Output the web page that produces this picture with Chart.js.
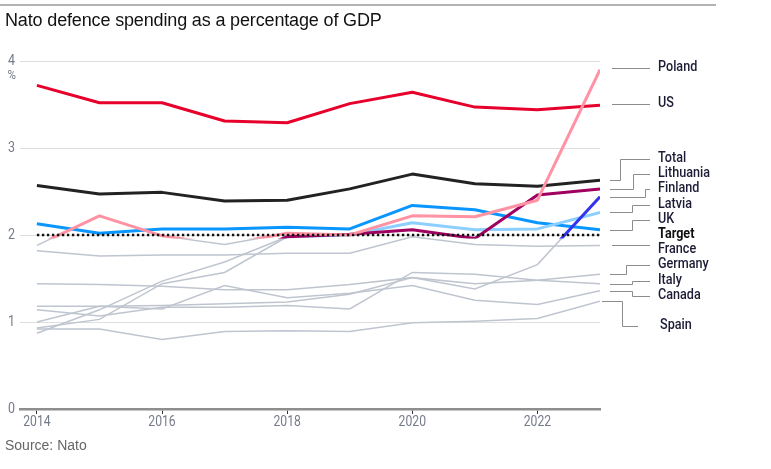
<!DOCTYPE html>
<html>
<head>
<meta charset="utf-8">
<script src="https://cdn.jsdelivr.net/npm/chart.js@4.4.1/dist/chart.umd.min.js"></script>
<style>
  html, body { margin: 0; padding: 0; background: #fff; }
  #wrap { position: relative; width: 771px; height: 469px; overflow: hidden; }
  #rule { position: absolute; left: 0; top: 4px; width: 716px; height: 0; border-top: 2px solid #b3b3b3; }
  #title { position: absolute; left: 5px; top: 10px; font-family: 'Liberation Sans', Arial, sans-serif; font-size: 18px; color: #121212; white-space: nowrap; letter-spacing: -0.15px; }
  #source { position: absolute; left: 5px; top: 437px; font-family: 'Liberation Sans', Arial, sans-serif; font-size: 14px; color: #666; }
  canvas { position: absolute; left: 0; top: 0; }
</style>
</head>
<body>
<div id="wrap">
  <canvas id="c" width="771" height="469"></canvas>
  <div id="rule"></div>
  <div id="title">Nato defence spending as a percentage of GDP</div>
  <div id="source">Source: Nato</div>
</div>
<script>
// ---------- data ----------
const years = [2014, 2015, 2016, 2017, 2018, 2019, 2020, 2021, 2022, 2023];
const xTickYears = [2014, 2016, 2018, 2020, 2022];
const yTickValues = [0, 1, 2, 3, 4];
const targetValue = 2;

const poland    = [1.88, 2.22, 1.99, 1.89, 2.02, 2.00, 2.22, 2.21, 2.40, 3.90];
const us        = [3.72, 3.52, 3.52, 3.31, 3.29, 3.51, 3.64, 3.47, 3.44, 3.49];
const total     = [2.57, 2.47, 2.49, 2.39, 2.40, 2.53, 2.70, 2.59, 2.56, 2.63];
const lithuania = [0.87, 1.14, 1.47, 1.69, 1.98, 2.01, 2.06, 1.96, 2.46, 2.53];
const finland   = [1.44, 1.43, 1.41, 1.37, 1.37, 1.43, 1.51, 1.38, 1.66, 2.44];
const latvia    = [0.93, 1.03, 1.44, 1.57, 1.98, 2.00, 2.14, 2.06, 2.07, 2.26];
const uk        = [2.13, 2.02, 2.07, 2.07, 2.09, 2.07, 2.34, 2.29, 2.14, 2.06];
const france    = [1.82, 1.76, 1.77, 1.77, 1.79, 1.79, 1.98, 1.89, 1.87, 1.88];
const germany   = [1.18, 1.18, 1.19, 1.21, 1.23, 1.32, 1.51, 1.44, 1.48, 1.55];
const italy     = [1.14, 1.07, 1.17, 1.17, 1.19, 1.15, 1.57, 1.55, 1.48, 1.44];
const canada    = [1.00, 1.18, 1.15, 1.42, 1.28, 1.33, 1.42, 1.25, 1.20, 1.36];
const spain     = [0.92, 0.92, 0.80, 0.89, 0.90, 0.89, 0.99, 1.01, 1.04, 1.24];
const target    = years.map(() => targetValue);

// ---------- styles ----------
const GREY = '#bfc5cf';
const highlighted = [
  { name: 'Poland',    data: poland,    color: '#ff93a4', order: 3, clip: true },
  { name: 'US',        data: us,        color: '#e6002b', order: 4, clip: false },
  { name: 'Total',     data: total,     color: '#222222', order: 5, clip: false },
  { name: 'Lithuania', data: lithuania, color: '#a0005f', order: 6, clip: true },
  { name: 'Finland',   data: finland,   color: '#3333f0', order: 7, clip: true },
  { name: 'Latvia',    data: latvia,    color: '#8dcfff', order: 8, clip: true },
  { name: 'UK',        data: uk,        color: '#0a96ff', order: 9, clip: false }
];
const greyOnly = [
  { name: 'France',  data: france },
  { name: 'Germany', data: germany },
  { name: 'Italy',   data: italy },
  { name: 'Canada',  data: canada },
  { name: 'Spain',   data: spain }
];

const datasets = [];
greyOnly.forEach(s => datasets.push({
  label: s.name, data: s.data, borderColor: GREY, borderWidth: 1.5,
  pointRadius: 0, tension: 0, fill: false, order: 100
}));
highlighted.filter(s => s.clip).forEach(s => datasets.push({
  label: s.name + ' (below)', data: s.data, borderColor: GREY, borderWidth: 1.5,
  pointRadius: 0, tension: 0, fill: false, order: 100
}));
highlighted.forEach(s => datasets.push({
  label: s.name, data: s.data, borderColor: s.color, borderWidth: 3,
  pointRadius: 0, tension: 0, fill: false, order: s.order, aboveTarget: s.clip,
  borderJoinStyle: 'round', borderCapStyle: 'butt'
}));
datasets.push({
  label: 'Target', data: target, borderColor: '#111', borderWidth: 2.6,
  borderDash: [2.4, 2.6], pointRadius: 0, fill: false, order: 1
});

// ---------- helpers ----------
const TXT_FONT = "Roboto, 'Liberation Sans', sans-serif";
function drawNarrow(ctx, text, x, y, align, font, color, sx) {
  ctx.save();
  ctx.font = font;
  ctx.fillStyle = color;
  ctx.textAlign = align;
  ctx.textBaseline = 'middle';
  ctx.scale(sx, 1);
  ctx.fillText(text, x / sx, y);
  ctx.restore();
}

// ---------- plugins ----------
const clipAbove = {
  id: 'clipAbove',
  beforeDatasetDraw(chart, args) {
    const ds = chart.data.datasets[args.index];
    if (!ds.aboveTarget) return;
    const y = chart.scales.y.getPixelForValue(targetValue) + 3.5;
    const ctx = chart.ctx;
    ctx.save();
    ctx.beginPath();
    ctx.rect(0, 0, chart.width, y);
    ctx.clip();
  },
  afterDatasetDraw(chart, args) {
    const ds = chart.data.datasets[args.index];
    if (!ds.aboveTarget) return;
    chart.ctx.restore();
  }
};

const axisLabels = {
  id: 'axisLabels',
  afterDraw(chart) {
    const ctx = chart.ctx;
    const xs = chart.scales.x, ys = chart.scales.y;
    const area = chart.chartArea;
    const tickFont = '400 14.5px ' + TXT_FONT;
    const tickColor = '#767b8b';
    xTickYears.forEach(v => {
      drawNarrow(ctx, String(v), xs.getPixelForValue(v), area.bottom + 13, 'center', tickFont, tickColor, 0.84);
    });
    yTickValues.forEach(v => {
      drawNarrow(ctx, String(v), area.left - 5, ys.getPixelForValue(v), 'right', tickFont, tickColor, 0.86);
    });
    drawNarrow(ctx, '%', area.left - 4, ys.getPixelForValue(4) + 15, 'right', '400 13.5px ' + TXT_FONT, tickColor, 0.86);
  }
};

// label layout: label centre y (px), elbow x (px) or null for straight
const labelLayout = [
  { name: 'Poland',    ly: 67,  straight: true },
  { name: 'US',        ly: 103, straight: true },
  { name: 'Total',     ly: 158, elbow: 620 },
  { name: 'Lithuania', ly: 173, elbow: 633 },
  { name: 'Finland',   ly: 188, elbow: 645 },
  { name: 'Latvia',    ly: 204, elbow: 632 },
  { name: 'UK',        ly: 219, elbow: 632 },
  { name: 'Target',    ly: 234, none: true, bold: true },
  { name: 'France',    ly: 249 },
  { name: 'Germany',   ly: 264, elbow: 626 },
  { name: 'Italy',     ly: 280, elbow: 632 },
  { name: 'Canada',    ly: 295, elbow: 632 },
  { name: 'Spain',     ly: 325, elbow: 622, start: 2, end: 638, lx: 660 }
];
const allSeries = {};
highlighted.concat(greyOnly).forEach(s => { allSeries[s.name] = s.data; });

const endLabels = {
  id: 'endLabels',
  afterDraw(chart) {
    const ctx = chart.ctx;
    const area = chart.chartArea;
    const ys = chart.scales.y;
    ctx.save();
    labelLayout.forEach(l => {
      if (!l.none) {
        const vals = allSeries[l.name];
        const endV = vals[vals.length - 1];
        const x0 = area.right + (l.start !== undefined ? l.start : 10);
        const x1 = l.end || 650;
        const ly = Math.round(l.ly + 1) + 0.5;
        ctx.strokeStyle = '#8c8c8c';
        ctx.lineWidth = 1;
        ctx.beginPath();
        if (l.straight) {
          ctx.moveTo(area.right + 12, ly);
          ctx.lineTo(x1, ly);
        } else {
          const y0 = Math.round(ys.getPixelForValue(endV)) + 0.5;
          if (l.elbow) {
            ctx.moveTo(x0, y0);
            ctx.lineTo(l.elbow + 0.5, y0);
            ctx.lineTo(l.elbow + 0.5, ly);
            ctx.lineTo(x1, ly);
          } else {
            ctx.moveTo(x0 + 2, y0);
            ctx.lineTo(x1, y0);
          }
        }
        ctx.stroke();
      }
      drawNarrow(ctx, l.name, l.lx || 658, l.ly,
        'left', (l.bold ? '700 ' : '500 ') + '14.5px ' + TXT_FONT,
        l.bold ? '#111' : '#1c1c36', 0.87);
    });
    ctx.restore();
  }
};

// ---------- chart ----------
new Chart(document.getElementById('c'), {
  type: 'line',
  data: { labels: years, datasets },
  options: {
    responsive: false,
    animation: false,
    events: [],
    layout: { padding: { left: 0, right: 171, top: 61, bottom: 25 } },
    plugins: { legend: { display: false }, tooltip: { enabled: false } },
    scales: {
      x: {
        type: 'linear',
        min: 2013.73,
        max: 2023,
        afterBuildTicks: s => { s.ticks = xTickYears.map(v => ({ value: v })); },
        afterFit: s => { s.height = 35; },
        grid: { drawOnChartArea: false, drawTicks: true, tickLength: 5, tickColor: '#333', tickWidth: 1 },
        border: { display: true, color: '#8e8e8e', width: 2.5 },
        ticks: { display: false }
      },
      y: {
        min: 0,
        max: 4,
        afterBuildTicks: s => { s.ticks = yTickValues.map(v => ({ value: v })); },
        afterFit: s => { s.width = 20; },
        grid: { color: '#dedede', lineWidth: 1, drawTicks: false },
        border: { display: false },
        ticks: { display: false }
      }
    }
  },
  plugins: [clipAbove, axisLabels, endLabels]
});
</script>
</body>
</html>
